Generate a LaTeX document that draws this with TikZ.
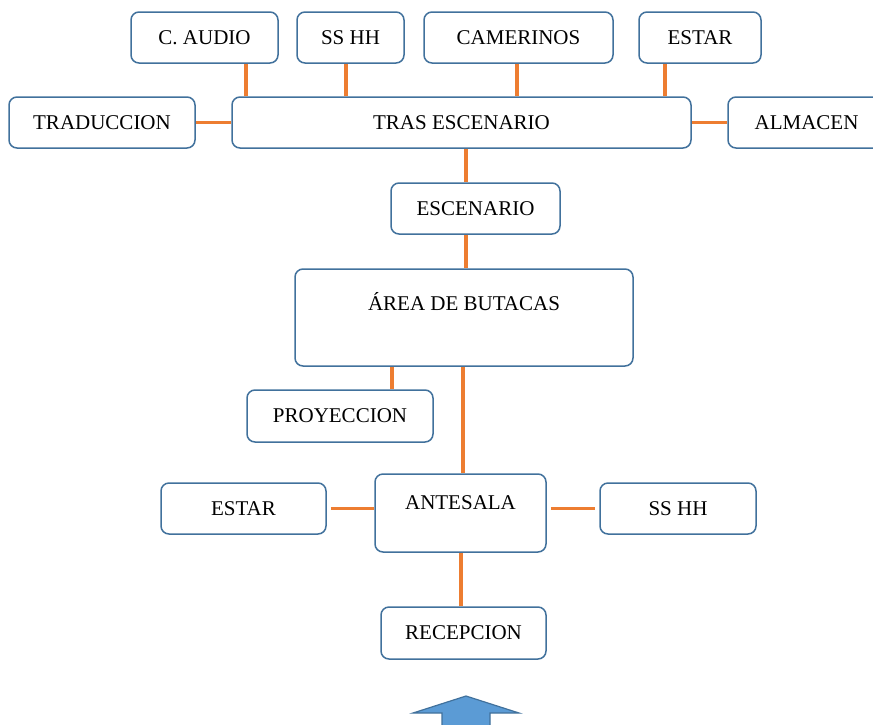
\documentclass[tikz,border=0pt]{standalone}
\usepackage{fontspec}
\setmainfont{Liberation Serif}
\definecolor{boxline}{HTML}{41719C}
\definecolor{linkc}{HTML}{ED7D31}
\definecolor{arrowfill}{HTML}{5B9BD5}
\begin{document}
\begin{tikzpicture}[x=1pt,y=-1pt,
  every node/.style={draw=boxline,line width=1.5pt,rounded corners=8pt,fill=white,
    inner sep=0pt,minimum height=51pt,font=\fontsize{21}{25}\selectfont},
  link/.style={draw=linkc,line width=3.5pt}]
  \clip (0,0) rectangle (873,724);

  % Fila superior
  \node[minimum width=147pt] (audio) at (204.5, 37.5) {C. AUDIO};
  \node[minimum width=107pt] (banos1) at (350.5, 37.5) {SS HH};
  \node[minimum width=189pt] (camer) at (518.5, 37.5) {CAMERINOS};
  \node[minimum width=122pt] (estar1) at (700, 37.5) {ESTAR};

  % Tras escenario
  \node[minimum width=186pt] (trad) at (102, 122.5) {TRADUCCION};
  \node[minimum width=459pt] (tras) at (461.5, 122.5) {TRAS ESCENARIO};
  \node[minimum width=157pt] (almacen) at (806.5, 122.5) {ALMACEN};

  % Sala
  \node[minimum width=169pt] (escen) at (475.5, 208.5) {ESCENARIO};
  \node[minimum width=338pt, minimum height=97pt, text height=14pt, text depth=29pt] (area) at (464, 317.5) {ÁREA DE BUTACAS};
  \node[minimum width=186pt, minimum height=52pt] (proy) at (340, 416) {PROYECCION};

  % Ingreso
  \node[minimum width=165pt] (estar2) at (243.5, 508.5) {ESTAR};
  \node[minimum width=171pt, minimum height=78pt, text height=14pt, text depth=22pt] (ante) at (460.5, 513) {ANTESALA};
  \node[minimum width=156pt] (banos2) at (678, 508.5) {SS HH};
  \node[minimum width=165pt, minimum height=52pt] (recep) at (463.5, 633) {RECEPCION};

  % Conexiones
  \foreach \from/\xx in {audio/246, banos1/346, camer/517, estar1/665}
    \draw[link] (\from.south -| \xx,0) -- (tras.north -| \xx,0);
  \draw[link] (trad.east) -- (trad.east -| tras.west);
  \draw[link] (tras.east) -- (tras.east -| almacen.west);
  \draw[link] (tras.south -| 466,0) -- (escen.north -| 466,0);
  \draw[link] (escen.south -| 466,0) -- (area.north -| 466,0);
  \draw[link] (area.south -| 392,0) -- (proy.north -| 392,0);
  \draw[link] (area.south -| 463,0) -- (ante.north -| 463,0);
  \draw[link, shorten <=4pt] (estar2.east) -- (estar2.east -| ante.west);
  \draw[link, shorten <=4pt, shorten >=4pt] (ante.east |- banos2.west) -- (banos2.west);
  \draw[link] (ante.south -| 461,0) -- (recep.north -| 461,0);

  % Flecha de ingreso
  \draw[draw=boxline, fill=arrowfill, line width=1.2pt]
    (442,730) -- (442,713) -- (413,713) -- (466,696) -- (519,713) -- (490,713) -- (490,730) -- cycle;
\end{tikzpicture}
\end{document}
